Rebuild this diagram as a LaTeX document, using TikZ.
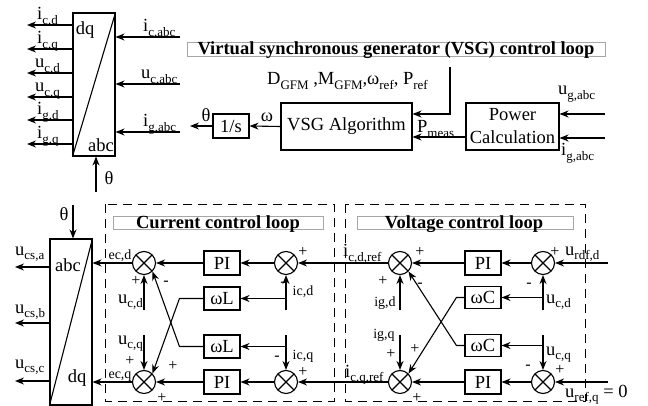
\documentclass[tikz,border=0pt]{standalone}
\usepackage{fontspec}
\setmainfont{Liberation Serif}
\usetikzlibrary{arrows.meta}
\newcommand\sbs[1]{\raisebox{-0.55ex}{\fontsize{13}{13}\selectfont #1}}
\begin{document}
\begin{tikzpicture}[x=1pt,y=-1pt,
  font=\fontsize{18.5}{22}\selectfont,
  every node/.style={inner sep=0pt},
  ln/.style={line width=1.1pt},
  arr/.style={line width=1.1pt,-{Stealth[length=9pt,width=7pt]}},
  blk/.style={draw,line width=1.1pt},
  sumj/.style={circle,draw,line width=1.1pt,minimum size=23pt,
    path picture={\draw[line width=1.1pt]
      (path picture bounding box.north west)--(path picture bounding box.south east)
      (path picture bounding box.north east)--(path picture bounding box.south west);}},
  smallb/.style={blk,minimum width=36pt,minimum height=24pt},
  sm/.style={font=\fontsize{14}{14}\selectfont},
  sg/.style={font=\fontsize{16}{16}\selectfont},
  ttl/.style={font=\fontsize{18.5}{20}\selectfont\bfseries},
  tbox/.style={draw=black!35,line width=0.6pt},
  dbox/.style={draw,line width=0.9pt,dash pattern=on 9pt off 6pt}
]
\useasboundingbox (0,0) rectangle (648,406);

% ---------- top-left abc/dq transform ----------
\node[blk,minimum width=42pt,minimum height=143pt] (T1) at (94,84.5) {};
\draw[ln] (T1.south west) -- (T1.north east);
\node (T1dq) at (85,30) {dq};
\node (T1abc) at (101,145) {abc};

\coordinate (o1) at (27,25);  \draw[arr] (o1 -| T1.west) -- (o1);
\coordinate (o2) at (27,49);  \draw[arr] (o2 -| T1.west) -- (o2);
\coordinate (o3) at (27,73);  \draw[arr] (o3 -| T1.west) -- (o3);
\coordinate (o4) at (27,97);  \draw[arr] (o4 -| T1.west) -- (o4);
\coordinate (o5) at (27,120); \draw[arr] (o5 -| T1.west) -- (o5);
\coordinate (o6) at (27,144); \draw[arr] (o6 -| T1.west) -- (o6);
\node[anchor=base west] (lo1) at (37,20)  {i\sbs{c,d}};
\node[anchor=base west] (lo2) at (37,44)  {i\sbs{c,q}};
\node[anchor=base west] (lo3) at (35,68)  {u\sbs{c,d}};
\node[anchor=base west] (lo4) at (35,92)  {u\sbs{c,q}};
\node[anchor=base west] (lo5) at (37,115) {i\sbs{g,d}};
\node[anchor=base west] (lo6) at (37,139) {i\sbs{g,q}};

\coordinate (i1) at (180,37);  \draw[arr] (i1) -- (i1 -| T1.east);
\coordinate (i2) at (180,84);  \draw[arr] (i2) -- (i2 -| T1.east);
\coordinate (i3) at (180,132); \draw[arr] (i3) -- (i3 -| T1.east);
\node[anchor=base west] (li1) at (143,32)  {i\sbs{c,abc}};
\node[anchor=base west] (li2) at (141,79)  {u\sbs{c,abc}};
\node[anchor=base west] (li3) at (143,127) {i\sbs{g,abc}};

\coordinate (th1) at (96,192); \draw[arr] (th1) -- (th1 |- T1.south);
\node (lth1) at (109,178) {θ};

% ---------- VSG loop ----------
\draw[tbox] (187,42) rectangle (605,56);
\node[ttl] (vsgt) at (396,50) {Virtual synchronous generator (VSG) control loop};

\node[blk,minimum width=131pt,minimum height=47pt] (vsg) at (346.5,126.5) {VSG Algorithm};
\node[blk,minimum width=36pt,minimum height=24pt] (ints) at (231,126) {1/s};
\node[blk,minimum width=93pt,minimum height=47pt,align=center,font=\fontsize{18.5}{23}\selectfont] (pc) at (512.5,126.5) {Power\\Calculation};

\draw[arr] (vsg.west) -- (ints.east);
\node (lw) at (267,117) {ω};
\coordinate (thout) at (190,126);
\draw[arr] (ints.west) -- (thout);
\node (lth2) at (206,115) {θ};

\coordinate (dtop) at (450,67);
\coordinate (dbend) at (450,114);
\draw[arr] (dtop) -- (dbend) -- (dbend -| vsg.east);
\node[anchor=base west] (lpar) at (267,85) {D\sbs{GFM} ,M\sbs{GFM},ω\sbs{ref}, P\sbs{ref}};

\coordinate (pm) at (466,137);
\draw[arr] (pm) -- (pm -| vsg.east);
\node[anchor=base west] (lpm) at (417,133) {P\sbs{meas}};

\coordinate (ug) at (605,114); \draw[arr] (ug) -- (ug -| pc.east);
\coordinate (ig) at (605,138); \draw[arr] (ig) -- (ig -| pc.east);
\node[anchor=base west] (lug) at (558,95)  {u\sbs{g,abc}};
\node[anchor=base west] (lig) at (561,156) {i\sbs{g,abc}};

% ---------- bottom abc/dq transform ----------
\node[blk,minimum width=42pt,minimum height=166pt] (T2) at (71,322) {};
\draw[ln] (T2.south west) -- (T2.north east);
\node (T2abc) at (68,265) {abc};
\node (T2dq) at (77,378) {dq};
\coordinate (th2) at (73,205); \draw[arr] (th2) -- (th2 |- T2.north);
\node (lth3) at (64,214) {θ};

\coordinate (u1) at (15,267); \draw[arr] (u1 -| T2.west) -- (u1);
\coordinate (u2) at (15,323); \draw[arr] (u2 -| T2.west) -- (u2);
\coordinate (u3) at (15,381); \draw[arr] (u3 -| T2.west) -- (u3);
\node[anchor=base west] (lu1) at (15,255) {u\sbs{cs,a}};
\node[anchor=base west] (lu2) at (15,313) {u\sbs{cs,b}};
\node[anchor=base west] (lu3) at (15,368) {u\sbs{cs,c}};

% ---------- dashed frames ----------
\draw[dbox] (105,204) rectangle (334,401);
\draw[dbox] (345,204) rectangle (585,401);
\draw[tbox] (113,216) rectangle (323,229);
\node[ttl] (cct) at (218,224) {Current control loop};
\draw[tbox] (357,216) rectangle (573,229);
\node[ttl] (vct) at (464,224) {Voltage control loop};

% ---------- current loop ----------
\node[sumj] (s1) at (144,263) {};
\node[smallb] (pi1) at (222,263) {PI};
\node[sumj] (s2) at (286,263) {};
\node[smallb,minimum height=23pt] (wl1) at (222,298.5) {ωL};
\node[smallb,minimum height=23pt] (wl2) at (222,346.5) {ωL};
\node[smallb] (pi2) at (222,382) {PI};
\node[sumj] (s3) at (144,382) {};
\node[sumj] (s4) at (286,382) {};

% ---------- voltage loop ----------
\node[sumj] (s5) at (400,263) {};
\node[smallb] (pi3) at (483,263) {PI};
\node[sumj] (s6) at (543,263) {};
\node[smallb,minimum height=22pt] (wc1) at (483,297.5) {ωC};
\node[smallb,minimum height=22pt] (wc2) at (483,345.5) {ωC};
\node[smallb] (pi4) at (483,382) {PI};
\node[sumj] (s7) at (400,382) {};
\node[sumj] (s8) at (543,382) {};

% main paths
\draw[arr] (s1.west) -- (s1.west -| T2.east);
\draw[arr] (pi1.west) -- (s1.east);
\draw[arr] (s2.west) -- (pi1.east);
\draw[arr] (s5.west) -- (s2.east);
\draw[arr] (pi3.west) -- (s5.east);
\draw[arr] (s6.west) -- (pi3.east);
\coordinate (urd) at (608,263); \draw[arr] (urd) -- (s6.east);

\draw[arr] (s3.west) -- (s3.west -| T2.east);
\draw[arr] (pi2.west) -- (s3.east);
\draw[arr] (s4.west) -- (pi2.east);
\draw[arr] (s7.west) -- (s4.east);
\draw[arr] (pi4.west) -- (s7.east);
\draw[arr] (s8.west) -- (pi4.east);
\coordinate (urq) at (608,382); \draw[arr] (urq) -- (s8.east);

% feedback verticals, current loop
\coordinate (icd) at (286,310); \draw[arr] (icd) -- (s2.south);
\draw[arr] (icd |- wl1.east) -- (wl1.east);
\coordinate (icq) at (286,335); \draw[arr] (icq) -- (s4.north);
\draw[arr] (icq |- wl2.east) -- (wl2.east);
\coordinate (ucd) at (144,310); \draw[arr] (ucd) -- (s1.south);
\coordinate (ucq) at (144,335); \draw[arr] (ucq) -- (s3.north);
\draw[arr] (wl1.west) -- ++(-24,0) -- (s3.north east);
\draw[arr] (wl2.west) -- ++(-24,0) -- (s1.south east);

% feedback verticals, voltage loop
\coordinate (vcd) at (543,310); \draw[arr] (vcd) -- (s6.south);
\draw[arr] (vcd |- wc1.east) -- (wc1.east);
\coordinate (vcq) at (543,335); \draw[arr] (vcq) -- (s8.north);
\draw[arr] (vcq |- wc2.east) -- (wc2.east);
\coordinate (igd) at (400,310); \draw[arr] (igd) -- (s5.south);
\coordinate (igq) at (400,335); \draw[arr] (igq) -- (s7.north);
\draw[arr] (wc1.west) -- ++(-8,0) -- (s7.north east);
\draw[arr] (wc2.west) -- ++(-8,0) -- (s5.south east);

% small labels
\node[sm] (lecd) at (120,256) {ec,d};
\node[sm] (lecq) at (120,377) {ec,q};
\node[sm] (licd) at (303,292) {ic,d};
\node[sm] (licq) at (303,356) {ic,q};
\node[sm] (ligd) at (385,303) {ig,d};
\node[sm] (ligq) at (384,335) {ig,q};
\node[anchor=base east] (lucd) at (143,303) {u\sbs{c,d}};
\node[anchor=base east] (lucq) at (143,344) {u\sbs{c,q}};
\node[anchor=base west] (lvcd) at (546,303) {u\sbs{c,d}};
\node[anchor=base west] (lvcq) at (546,355) {u\sbs{c,q}};
\node[anchor=base west] (licdr) at (343,257) {i\sbs{c,d,ref}};
\node[anchor=base west] (licqr) at (345,377) {i\sbs{c,q,ref}};
\node[anchor=base west] (lurd) at (565,255) {u\sbs{rdf,d}};
\node[anchor=base west] (lurq) at (565,397) {u\sbs{ref,q} = 0};

% signs
\node[sg] (p1) at (136,281) {+};
\node[sg] (m1) at (166,283) {-};
\node[sg] (p2) at (303,252) {+};
\node[sg] (m2) at (283,284) {-};
\node[sg] (p3) at (130,361) {+};
\node[sg] (p4) at (173,366) {+};
\node[sg] (p5) at (162,398) {+};
\node[sg] (m4) at (277,358) {-};
\node[sg] (p6) at (303,372) {+};
\node[sg] (p7) at (420,252) {+};
\node[sg] (p8) at (383,281) {+};
\node[sg] (m5) at (420,285) {-};
\node[sg] (p9) at (555,252) {+};
\node[sg] (m6) at (529,285) {-};
\node[sg] (p10) at (391,354) {+};
\node[sg] (p11) at (415,349) {+};
\node[sg] (p12) at (417,398) {+};
\node[sg] (m8) at (528,367) {-};
\node[sg] (p13) at (560,370) {+};
\end{tikzpicture}
\end{document}
